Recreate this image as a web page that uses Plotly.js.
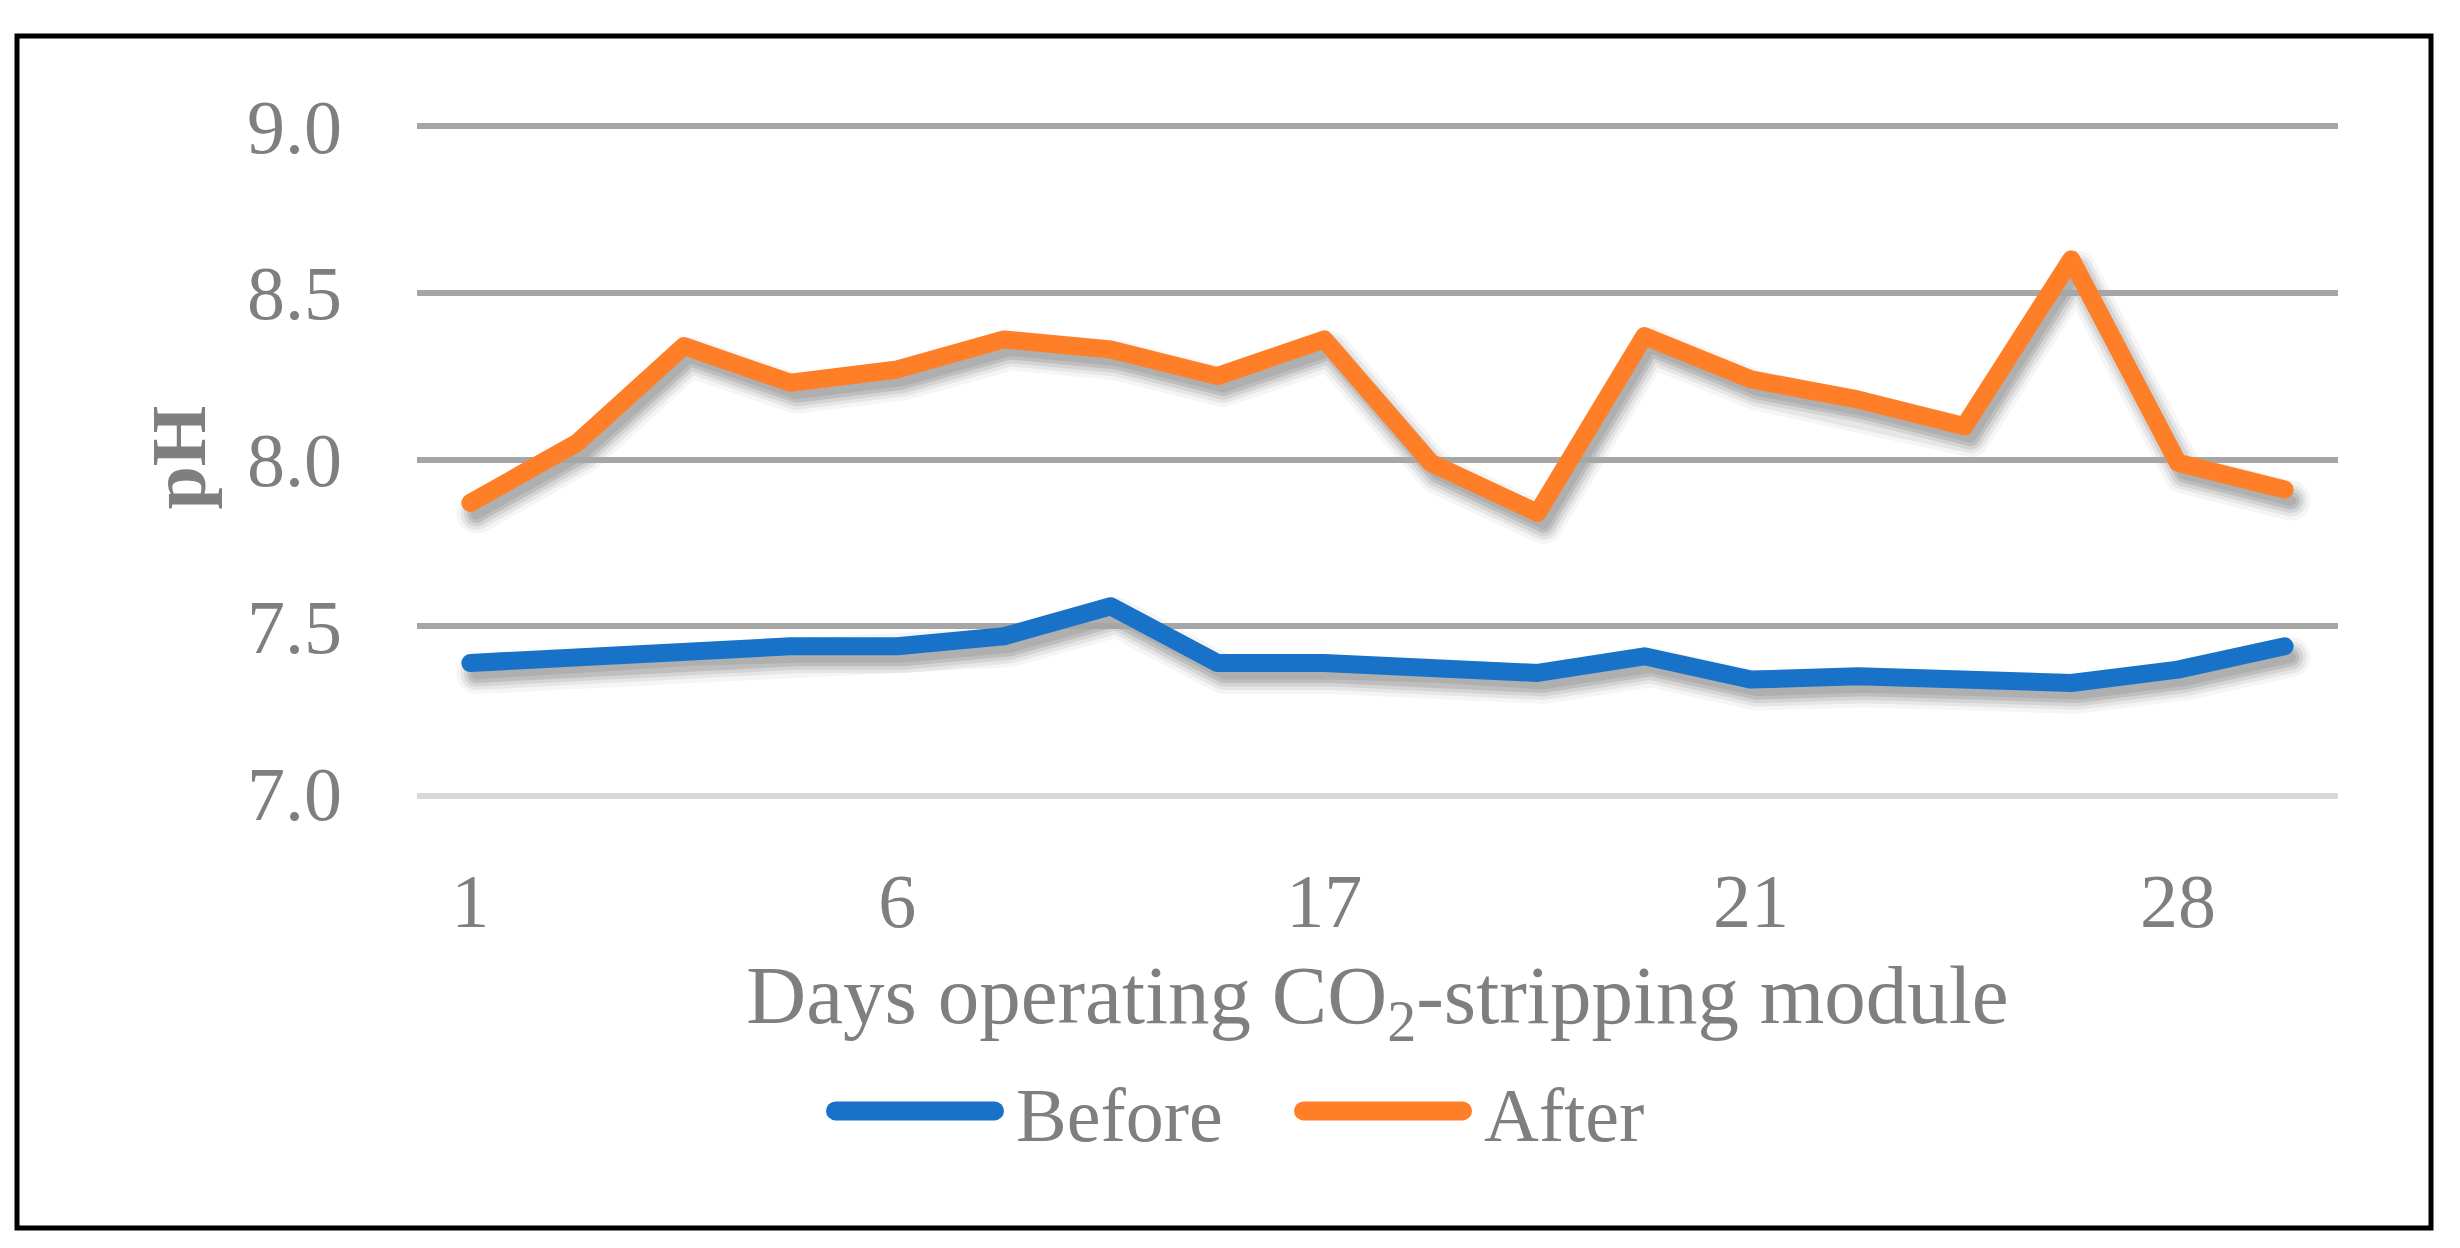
<!DOCTYPE html>
<html>
<head>
<meta charset="utf-8">
<script src="https://cdn.plot.ly/plotly-3.0.1.min.js"></script>
<style>
html, body { margin: 0; padding: 0; background: #ffffff; }
#chart { width: 2460px; height: 1248px; }
</style>
</head>
<body>
<div id="chart"></div>
<script>
// ---- data ----
const days = ['1', '2', '3', '4', '6', '7', '8', '9', '17', '18', '19', '20', '21', '22', '23', '24', '28', '29'];
const phBefore = [7.39, 7.41, 7.43, 7.44, 7.44, 7.47, 7.56, 7.39, 7.39, 7.38, 7.36, 7.41, 7.34, 7.35, 7.34, 7.33, 7.37, 7.44];
const phAfter  = [7.87, 8.05, 8.34, 8.23, 8.27, 8.36, 8.33, 8.25, 8.36, 7.99, 7.84, 8.37, 8.24, 8.18, 8.10, 8.60, 7.99, 7.91];
const seriesNames = ['Before', 'After'];
const yTicks = [7.0, 7.5, 8.0, 8.5, 9.0];
const yMin = 7, yMax = 9, yPadTop = 0.012;   // small pad so the 9.0 gridline is drawn
const labelEvery = 4;

// ---- geometry (pixels) ----
const W = 2460, H = 1248;
const L = 417, R = 2338, B = 793, Y9 = 126;  // real plot area; Y9 = row of the 9.0 gridline
const T = B - (B - Y9) * (yMax + yPadTop - yMin) / (yMax - yMin);
const SX = 6, SY = 11;                       // drop-shadow offset of the lines
const PW = R + SX - L, PH = B + SY - T;
const PX = px => (px - L) / PW;
const PY = py => (B + SY - py) / PH;

// ---- styling ----
const FONT = "'Palatino Linotype', 'Book Antiqua', Palatino, 'Liberation Serif', 'DejaVu Serif', serif";
const GREY = '#7f7f7f';
const BLUE = '#1873c8';
const ORANGE = '#fe7f27';
const LINE_W = 18;

// soft shadow: a few translucent grey strokes on a second subplot shifted by (SX, SY)
const shadowLayers = [
  { w: LINE_W + 22, a: 0.04 },
  { w: LINE_W + 14, a: 0.06 },
  { w: LINE_W + 7,  a: 0.08 },
  { w: LINE_W,      a: 0.10 },
  { w: LINE_W - 7,  a: 0.08 }
];
const traces = [];
[phBefore, phAfter].forEach(vals => {
  shadowLayers.forEach(s => traces.push({
    type: 'scatter', mode: 'lines', x: days, y: vals, xaxis: 'x', yaxis: 'y',
    line: { color: 'rgba(0,0,0,' + s.a + ')', width: s.w },
    showlegend: false, hoverinfo: 'skip'
  }));
});
traces.push(
  { type: 'scatter', mode: 'lines', name: seriesNames[0], x: days, y: phBefore, xaxis: 'x2', yaxis: 'y2',
    line: { color: BLUE, width: LINE_W }, hoverinfo: 'skip' },
  { type: 'scatter', mode: 'lines', name: seriesNames[1], x: days, y: phAfter, xaxis: 'x2', yaxis: 'y2',
    line: { color: ORANGE, width: LINE_W }, hoverinfo: 'skip' }
);

const catRange = [-0.5, days.length - 0.5];
const layout = {
  width: W, height: H,
  margin: { l: L, r: W - (R + SX), t: T, b: H - (B + SY), pad: 0 },
  paper_bgcolor: '#ffffff', plot_bgcolor: 'rgba(0,0,0,0)',
  font: { family: FONT, color: GREY, size: 76 },
  showlegend: true,
  // shifted (shadow) subplot — axes not drawn
  xaxis: { type: 'category', range: catRange, domain: [SX / PW, 1], anchor: 'y',
           visible: false, fixedrange: true },
  yaxis: { range: [yMin, yMax + yPadTop], domain: [0, 1 - SY / PH], anchor: 'x',
           visible: false, fixedrange: true },
  // real subplot
  xaxis2: {
    type: 'category', anchor: 'y2', side: 'bottom',
    domain: [0, (R - L) / PW],
    range: catRange,
    tickmode: 'array',
    tickvals: days.filter((d, i) => i % labelEvery === 0),
    ticks: '', showgrid: false, zeroline: false,
    showline: true, linecolor: '#d9d9d9', linewidth: 6,
    tickfont: { family: FONT, size: 76, color: GREY },
    ticklabelstandoff: 37,
    title: { text: 'Days operating CO<sub>2</sub>-stripping module',
             font: { family: FONT, size: 83, color: GREY }, standoff: 25 },
    fixedrange: true, automargin: false
  },
  yaxis2: {
    anchor: 'x2', side: 'left',
    domain: [SY / PH, 1],
    range: [yMin, yMax + yPadTop],
    tickmode: 'array', tickvals: yTicks, tickformat: '.1f',
    ticks: '', showline: false, zeroline: false,
    showgrid: true, gridcolor: '#a6a6a6', gridwidth: 6,
    tickfont: { family: FONT, size: 76, color: GREY },
    ticklabelstandoff: 74,
    title: { text: '<b>pH</b>', font: { family: FONT, size: 78, color: GREY }, standoff: 15 },
    fixedrange: true, automargin: false
  },
  legend: {
    orientation: 'h',
    x: PX(821), xanchor: 'left',
    y: PY(1111), yanchor: 'middle',
    font: { family: FONT, size: 76, color: GREY },
    itemwidth: 185,
    entrywidth: 268,
    bgcolor: 'rgba(0,0,0,0)', borderwidth: 0,
    itemclick: false, itemdoubleclick: false
  },
  shapes: [
    { type: 'rect', xref: 'paper', yref: 'paper',
      x0: PX(17), x1: PX(2431), y0: PY(1228), y1: PY(36),
      line: { color: '#000000', width: 5 }, fillcolor: 'rgba(0,0,0,0)', layer: 'above' }
  ]
};

function decorate(gd) {
  gd.querySelectorAll('.scatterlayer .trace path').forEach(p => {
    p.style.strokeLinecap = 'round';
    p.style.strokeLinejoin = 'round';
  });
  // longer, rounded legend line samples like the original
  gd.querySelectorAll('.legend .legendlines path').forEach(p => {
    p.setAttribute('d', 'M14.5,0h159');
    p.style.strokeWidth = '19px';
    p.style.strokeLinecap = 'round';
  });
}

Plotly.newPlot('chart', traces, layout, { displayModeBar: false, staticPlot: true }).then(gd => {
  decorate(gd);
  requestAnimationFrame(() => decorate(gd));
});
</script>
</body>
</html>
